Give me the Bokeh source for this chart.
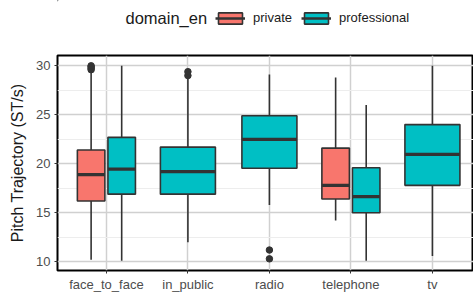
from bokeh.plotting import figure
from bokeh.layouts import column
from bokeh.models import (Range1d, FixedTicker, ColumnDataSource, Legend, LegendItem, Label)
from bokeh.embed import file_html
from bokeh.resources import INLINE

# ---- data ----
categories = ["face_to_face", "in_public", "radio", "telephone", "tv"]
domains = ["private", "professional"]
domain_colors = ["#F8766D", "#00BFC4"]
legend_title = "domain_en"

box_category = ["face_to_face", "face_to_face", "in_public", "radio", "telephone", "telephone", "tv"]
box_domain   = ["private", "professional", "professional", "professional", "private", "professional", "professional"]
whisker_low  = [10.2, 10.1, 12.0, 15.8, 14.2, 10.1, 10.6]
q1           = [16.2, 16.9, 16.9, 19.55, 16.4, 15.0, 17.8]
median       = [18.9, 19.45, 19.2, 22.5, 17.8, 16.65, 20.95]
q3           = [21.4, 22.7, 21.7, 24.9, 21.6, 19.6, 24.0]
whisker_high = [29.4, 30.0, 28.8, 29.1, 28.8, 26.0, 30.0]

outlier_category = ["face_to_face", "face_to_face", "face_to_face", "face_to_face", "in_public", "in_public", "radio", "radio"]
outlier_domain   = ["private", "private", "private", "private", "professional", "professional", "professional", "professional"]
outlier_value    = [29.6, 29.75, 29.9, 30.0, 29.0, 29.4, 11.2, 10.3]

y_ticks = [10, 15, 20, 25, 30]

# ---- dodge positions (ggplot-like: width 0.75, padding 0.1) ----
def dodge(cat, dom):
    members = [d for c, d in zip(box_category, box_domain) if c == cat]
    n = len(members)
    slot = 0.75 / n
    k = members.index(dom)
    center = categories.index(cat) + 1 - 0.375 + slot * (k + 0.5)
    return center, slot * 0.9

FONT = "Liberation Sans"
EDGE = "#333333"
W = 473
LEG_H = 47
LEFT = 57

# ---------------- main plot ----------------
p = figure(width=W, height=294 - LEG_H, output_backend="svg", toolbar_location=None,
           x_range=Range1d(0.4, 5.504), y_range=Range1d(9.11, 31.05),
           min_border_left=LEFT, min_border_right=0, min_border_top=8, min_border_bottom=24)
p.background_fill_color = "white"
p.border_fill_color = "white"
p.outline_line_color = "black"
p.outline_line_width = 2

for dom, col in zip(domains, domain_colors):
    idx = [i for i, d in enumerate(box_domain) if d == dom]
    xs, ws = [], []
    for i in idx:
        c, w = dodge(box_category[i], dom)
        xs.append(c); ws.append(w)
    src = ColumnDataSource(dict(
        x=xs, w=ws,
        lo=[whisker_low[i] for i in idx], q1=[q1[i] for i in idx],
        med=[median[i] for i in idx], q3=[q3[i] for i in idx],
        hi=[whisker_high[i] for i in idx],
        ml=[x - w / 2 for x, w in zip(xs, ws)], mr=[x + w / 2 for x, w in zip(xs, ws)]))
    p.segment(x0="x", y0="lo", x1="x", y1="q1", source=src, line_color=EDGE, line_width=1.6)
    p.segment(x0="x", y0="q3", x1="x", y1="hi", source=src, line_color=EDGE, line_width=1.6)
    p.vbar(x="x", width="w", bottom="q1", top="q3", source=src,
           fill_color=col, line_color=EDGE, line_width=1.6)
    p.segment(x0="ml", y0="med", x1="mr", y1="med", source=src, line_color=EDGE, line_width=3.2)

ox, oy = [], []
for c, d, v in zip(outlier_category, outlier_domain, outlier_value):
    x, _ = dodge(c, d)
    ox.append(x); oy.append(v)
p.scatter(ox, oy, size=6.5, color=EDGE)

p.xaxis.ticker = FixedTicker(ticks=list(range(1, len(categories) + 1)))
p.xaxis.major_label_overrides = {i + 1: c for i, c in enumerate(categories)}
p.yaxis.ticker = FixedTicker(ticks=y_ticks, minor_ticks=[12.5, 17.5, 22.5, 27.5])
p.yaxis.axis_label = "Pitch Trajectory (ST/s)"
for ax in (p.xaxis[0], p.yaxis[0]):
    ax.axis_line_color = None
    ax.major_tick_line_color = EDGE
    ax.major_tick_out = 3
    ax.major_tick_in = 0
    ax.minor_tick_line_color = None
    ax.major_label_text_font = FONT
    ax.major_label_text_font_size = "13px"
    ax.major_label_text_color = "#4D4D4D"
    ax.major_label_standoff = 3
p.yaxis.axis_label_text_font = FONT
p.yaxis.axis_label_text_font_size = "16px"
p.yaxis.axis_label_text_font_style = "normal"
p.yaxis.axis_label_text_color = "#1A1A1A"
p.yaxis.axis_label_standoff = 7

p.xgrid.grid_line_color = "#D0D0D0"
p.xgrid.grid_line_width = 1.5
p.ygrid.grid_line_color = "#D0D0D0"
p.ygrid.grid_line_width = 1.5
p.ygrid.minor_grid_line_color = "#EDEDED"
p.ygrid.minor_grid_line_width = 1.2

# ---------------- legend strip (frame is aligned with the main frame) ----------------
leg = figure(width=W, height=LEG_H, output_backend="svg", toolbar_location=None,
             x_range=Range1d(LEFT, W), y_range=Range1d(LEG_H, 0),
             x_axis_type=None, y_axis_type=None,
             min_border_left=0, min_border_right=0, min_border_top=0, min_border_bottom=0)
leg.outline_line_color = None
leg.background_fill_color = "white"
leg.border_fill_color = "white"

items = []
for dom, col in zip(domains, domain_colors):
    # off-canvas proxies, only used to draw the legend keys
    b = leg.vbar(x=[-2000], width=1, bottom=[-2000], top=[-1999],
                 fill_color=col, line_color=EDGE, line_width=1.6)
    m = leg.segment(x0=[-2000], y0=[-2000], x1=[-1999], y1=[-2000], line_color=EDGE, line_width=2.5)
    items.append(LegendItem(label=dom, renderers=[b, m]))

legend = Legend(items=items, orientation="horizontal", location=(158, 22))
legend.label_text_font = FONT
legend.label_text_font_size = "13px"
legend.label_text_color = "#1A1A1A"
legend.glyph_width = 30
legend.glyph_height = 14
legend.label_height = 14
legend.label_standoff = 8
legend.spacing = 9
legend.padding = 0
legend.margin = 0
legend.border_line_color = None
legend.background_fill_alpha = 0
leg.add_layout(legend)

leg.add_layout(Label(x=125, y=17, text=legend_title, text_font=FONT, text_font_size="16.5px",
                     text_color="#1A1A1A", text_baseline="middle", text_align="left"))

open("out.html", "w").write(file_html(column(leg, p, spacing=0), INLINE))
